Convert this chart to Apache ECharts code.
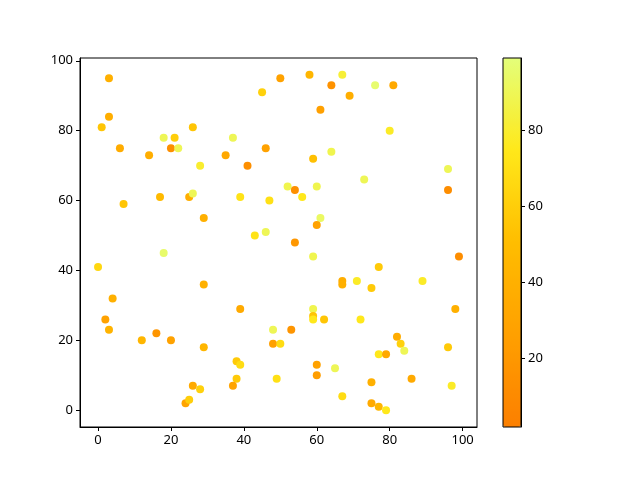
<!DOCTYPE html>
<html>
<head>
<meta charset="utf-8">
<script src="https://cdn.jsdelivr.net/npm/echarts@6/dist/echarts.min.js"></script>
<style>
  html, body { margin: 0; padding: 0; background: #fff; }
  #chart { width: 640px; height: 480px; }
</style>
</head>
<body>
<div id="chart"></div>
<script>
// scatter points: x, y and colour value
var xs = [3, 3, 1, 6, 14, 18, 21, 20, 22, 26, 28, 45, 50, 58, 64, 67, 61, 37, 35, 41,
  46, 59, 64, 76, 81, 69, 80, 96, 7, 17, 25, 26, 29, 18, 0, 29, 4, 39, 47, 52,
  54, 56, 60, 61, 60, 43, 46, 54, 59, 67, 67, 73, 96, 99, 77, 71, 75, 89, 2, 3,
  12, 16, 20, 29, 26, 28, 24, 25, 39, 48, 53, 48, 50, 59, 59, 59, 62, 38, 39, 38,
  37, 49, 60, 60, 65, 67, 72, 98, 82, 83, 84, 77, 79, 96, 75, 86, 97, 75, 77, 79];
var ys = [95, 84, 81, 75, 73, 78, 78, 75, 75, 81, 70, 91, 95, 96, 93, 96, 86, 78, 73, 70,
  75, 72, 74, 93, 93, 90, 80, 69, 59, 61, 61, 62, 55, 45, 41, 36, 32, 61, 60, 64,
  63, 61, 64, 55, 53, 50, 51, 48, 44, 37, 36, 66, 63, 44, 41, 37, 35, 37, 26, 23,
  20, 22, 20, 18, 7, 6, 2, 3, 29, 23, 23, 19, 19, 29, 27, 26, 26, 14, 13, 9,
  7, 9, 13, 10, 12, 4, 26, 29, 21, 19, 17, 16, 16, 18, 8, 9, 7, 2, 1, 0];
var cs = [40, 38, 55, 36, 38, 90, 60, 14, 90, 55, 80, 62, 28, 45, 16, 82, 26, 90, 33, 14,
  28, 52, 88, 96, 34, 38, 78, 90, 55, 48, 38, 90, 40, 95, 65, 40, 40, 72, 70, 88,
  14, 75, 88, 93, 28, 72, 90, 20, 88, 38, 40, 90, 12, 12, 58, 78, 58, 78, 28, 42,
  45, 18, 28, 45, 35, 62, 30, 60, 35, 90, 18, 26, 68, 88, 55, 75, 55, 58, 68, 58,
  30, 70, 28, 25, 90, 68, 75, 40, 36, 62, 90, 75, 33, 58, 40, 35, 78, 35, 45, 75];

var axisTicks = [0, 20, 40, 60, 80, 100];
var colorTicks = [20, 40, 60, 80];
var cMin = 2, cMax = 99;
// Wistia reversed, low -> high
var wistia = ["#fc7f00", "#ffa000", "#ffbd00", "#ffe81a", "#e4ff7a"];

var points = [];
for (var i = 0; i < xs.length; i++) {
  points.push([xs[i], ys[i], cs[i]]);
}

var font = "'Noto Sans', 'DejaVu Sans', sans-serif";
var labelStyle = { color: "#000", fontSize: 13, fontFamily: font, margin: 7 };
var blackLine = { show: true, onZero: false, lineStyle: { color: "#000" } };

var myChart = echarts.init(document.getElementById("chart"));
var option = {
  backgroundColor: "#fff",
  animation: false,
  grid: [
    { left: 80, top: 58, width: 397, height: 369, show: true, borderColor: "#000", borderWidth: 1, z: 3 },
    { left: 503, top: 58, width: 18, height: 369, show: true, borderColor: "#000", borderWidth: 1, z: 10 }
  ],
  xAxis: [
    {
      gridIndex: 0, type: "value", min: -4.95, max: 103.95,
      splitLine: { show: false },
      axisLine: blackLine,
      axisTick: { show: true, length: 4, lineStyle: { color: "#000" }, customValues: axisTicks },
      axisLabel: Object.assign({ customValues: axisTicks }, labelStyle)
    },
    { gridIndex: 1, type: "value", min: 0, max: 1, show: false }
  ],
  yAxis: [
    {
      gridIndex: 0, type: "value", min: -4.8, max: 100.8,
      splitLine: { show: false },
      axisLine: blackLine,
      axisTick: { show: true, length: 4, lineStyle: { color: "#000" }, customValues: axisTicks },
      axisLabel: Object.assign({ customValues: axisTicks }, labelStyle)
    },
    {
      gridIndex: 1, type: "value", min: cMin, max: cMax, position: "right", z: 10,
      splitLine: { show: false },
      axisLine: blackLine,
      axisTick: { show: true, length: 4, lineStyle: { color: "#000" }, customValues: colorTicks },
      axisLabel: Object.assign({ customValues: colorTicks }, labelStyle)
    }
  ],
  visualMap: {
    type: "continuous",
    seriesIndex: 0,
    dimension: 2,
    min: cMin,
    max: cMax,
    left: 503,
    top: 58,
    padding: 0,
    itemWidth: 18,
    itemHeight: 369,
    calculable: false,
    hoverLink: false,
    inRange: { color: wistia }
  },
  series: [
    {
      type: "scatter",
      xAxisIndex: 0,
      yAxisIndex: 0,
      symbolSize: 8,
      data: points,
      itemStyle: { opacity: 1 }
    },
    {
      type: "scatter",
      xAxisIndex: 1,
      yAxisIndex: 1,
      data: []
    }
  ]
};
myChart.setOption(option);
</script>
</body>
</html>
